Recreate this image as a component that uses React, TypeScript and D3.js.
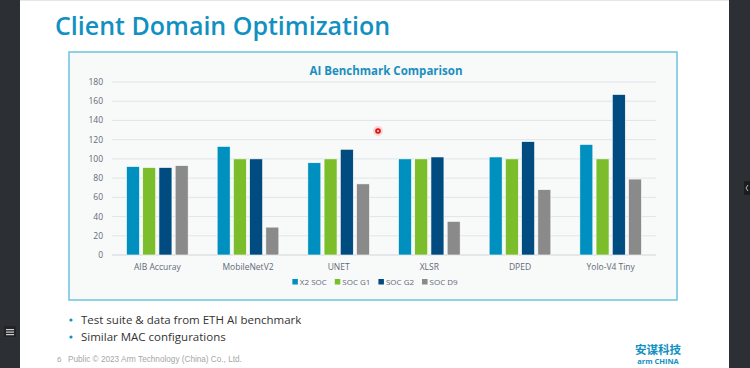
import React, { useEffect, useRef } from 'react';
import * as d3 from 'd3';

const categories = ['AIB Accuray', 'MobileNetV2', 'UNET', 'XLSR', 'DPED', 'Yolo-V4 Tiny'];
const seriesNames = ['X2 SOC', 'SOC G1', 'SOC G2', 'SOC D9'];
const x2Soc = [92, 113, 96, 100, 102, 115];
const socG1 = [91, 100, 100, 100, 100, 100];
const socG2 = [91, 100, 110, 102, 118, 167];
const socD9 = [93, 29, 74, 35, 68, 79];
const yTicks = [0, 20, 40, 60, 80, 100, 120, 140, 160, 180];
const bullets = ['Test suite & data from ETH AI benchmark', 'Similar MAC configurations'];

const App = () => {
	const ref = useRef<SVGSVGElement>(null);

	useEffect(() => {
		const svg = d3.select(ref.current);
		svg.selectAll('*').remove();
		const font = "'Open Sans', 'Noto Sans', sans-serif";

		// page frame
		svg.append('rect').attr('width', 750).attr('height', 368).attr('fill', '#ffffff');
		svg.append('rect').attr('x', 0).attr('width', 20).attr('height', 368).attr('fill', '#2c3034');
		svg.append('rect').attr('x', 729).attr('width', 21).attr('height', 368).attr('fill', '#2c3034');
		svg.append('rect').attr('x', 20).attr('width', 709).attr('height', 1).attr('fill', '#e6e6e6');
		svg.append('rect').attr('x', 744).attr('y', 181).attr('width', 6).attr('height', 14).attr('rx', 1).attr('fill', '#1b1d1f');
		svg.append('path').attr('d', 'M748,185 L746,188 L748,191').attr('fill', 'none').attr('stroke', '#bbb').attr('stroke-width', 1);
		svg.append('rect').attr('x', 4).attr('y', 326).attr('width', 12).attr('height', 11).attr('fill', '#222527');
		[329, 331.5, 334].forEach(y => {
			svg.append('rect').attr('x', 6).attr('y', y).attr('width', 8).attr('height', 1.2).attr('fill', '#cfcfcf');
		});

		svg.append('text')
			.attr('x', 55).attr('y', 35)
			.attr('font-family', font).attr('font-weight', 600).attr('font-size', 25)
			.attr('fill', '#1190c2')
			.text('Client Domain Optimization');

		// chart box
		svg.append('rect')
			.attr('x', 69).attr('y', 52).attr('width', 608).attr('height', 248)
			.attr('fill', '#f8f9f9').attr('stroke', '#6cc4dc').attr('stroke-width', 1.5);

		svg.append('text')
			.attr('x', 386).attr('y', 75).attr('text-anchor', 'middle')
			.attr('font-family', font).attr('font-weight', 700).attr('font-size', 11.5)
			.attr('fill', '#1a8fbf')
			.text('AI Benchmark Comparison');

		const margin = { left: 112, right: 656, top: 82, bottom: 255 };
		const x0 = d3.scaleBand().domain(categories).range([margin.left, margin.right]).paddingInner(0.32).paddingOuter(0.16);
		const x1 = d3.scaleBand().domain(seriesNames).range([0, x0.bandwidth()]).paddingInner(0.2);
		const y = d3.scaleLinear().domain([0, 180]).range([margin.bottom, margin.top]);
		const color = d3.scaleOrdinal<string>().domain(seriesNames).range(['#0090bf', '#7bbd2a', '#004b80', '#8a8a8a']);
		const values = [x2Soc, socG1, socG2, socD9];

		const grid = svg.append('g');
		yTicks.forEach(t => {
			grid.append('line')
				.attr('x1', margin.left).attr('x2', margin.right)
				.attr('y1', y(t)).attr('y2', y(t))
				.attr('stroke', t === 0 ? '#d0d6dc' : '#dfe5ea').attr('stroke-width', 1);
			grid.append('text')
				.attr('x', 103).attr('y', y(t)).attr('dy', '0.35em').attr('text-anchor', 'end')
				.attr('font-family', font).attr('font-size', 8.5).attr('fill', '#5f6b78')
				.text(t);
		});

		const groups = svg.append('g').selectAll('g')
			.data(categories)
			.join('g')
			.attr('transform', d => `translate(${x0(d)},0)`);

		groups.selectAll('rect')
			.data((d, i) => seriesNames.map((s, k) => ({ s, v: values[k][i] })))
			.join('rect')
			.attr('x', d => x1(d.s))
			.attr('width', x1.bandwidth())
			.attr('y', d => y(d.v))
			.attr('height', d => y(0) - y(d.v))
			.attr('fill', d => color(d.s))
			.attr('stroke', '#ffffff').attr('stroke-width', 0.6);

		svg.append('g').selectAll('text')
			.data(categories)
			.join('text')
			.attr('x', d => x0(d) + x0.bandwidth() / 2)
			.attr('y', 270).attr('text-anchor', 'middle')
			.attr('font-family', font).attr('font-size', 8.5).attr('fill', '#5f6b78')
			.text(d => d);

		// legend, laid out from measured text widths and centred
		const legend = svg.append('g');
		let cursor = 0;
		seriesNames.forEach(s => {
			legend.append('rect')
				.attr('x', cursor).attr('y', 279).attr('width', 5.5).attr('height', 5.5)
				.attr('fill', color(s));
			const t = legend.append('text')
				.attr('x', cursor + 7.5).attr('y', 282).attr('dy', '0.35em')
				.attr('font-family', font).attr('font-size', 8).attr('fill', '#5f6b78')
				.text(s);
			cursor += 7.5 + (t.node() as SVGTextElement).getComputedTextLength() + 8;
		});
		const legendW = cursor - 8;
		legend.attr('transform', `translate(${375 - legendW / 2},0)`);

		// laser pointer dot
		svg.append('circle').attr('cx', 378).attr('cy', 131).attr('r', 5).attr('fill', '#ff6b6b').attr('opacity', 0.25);
		svg.append('circle').attr('cx', 378).attr('cy', 131).attr('r', 2.8).attr('fill', '#e01010');
		svg.append('circle').attr('cx', 378).attr('cy', 131).attr('r', 1.1).attr('fill', '#ffd0d0');

		bullets.forEach((b, i) => {
			svg.append('circle').attr('cx', 71).attr('cy', 320 + i * 17).attr('r', 1.6).attr('fill', '#1190c2');
			svg.append('text')
				.attr('x', 81).attr('y', 320 + i * 17).attr('dy', '0.35em')
				.attr('font-family', font).attr('font-size', 11.5).attr('fill', '#333333')
				.text(b);
		});

		svg.append('text').attr('x', 57).attr('y', 362)
			.attr('font-family', 'Liberation Sans, Arial, sans-serif').attr('font-size', 8).attr('fill', '#a6a6a6')
			.text('6');
		svg.append('text').attr('x', 68).attr('y', 362)
			.attr('font-family', 'Liberation Sans, Arial, sans-serif').attr('font-size', 8.2).attr('fill', '#a6a6a6')
			.text('Public © 2023 Arm Technology (China) Co., Ltd.');

		svg.append('text').attr('x', 658).attr('y', 354).attr('text-anchor', 'middle')
			.attr('font-family', "'Noto Sans CJK SC', sans-serif").attr('font-weight', 700).attr('font-size', 11.5)
			.attr('fill', '#1190c2')
			.text('安谋科技');
		svg.append('text').attr('x', 658).attr('y', 364).attr('text-anchor', 'middle')
			.attr('font-family', font).attr('font-weight', 700).attr('font-size', 7.5)
			.attr('fill', '#1190c2')
			.text('arm CHINA');
	}, []);

	return (
		<svg ref={ref} width={750} height={368} style={{ position: 'absolute', left: 0, top: 0 }} />
	);
};

export default App;
